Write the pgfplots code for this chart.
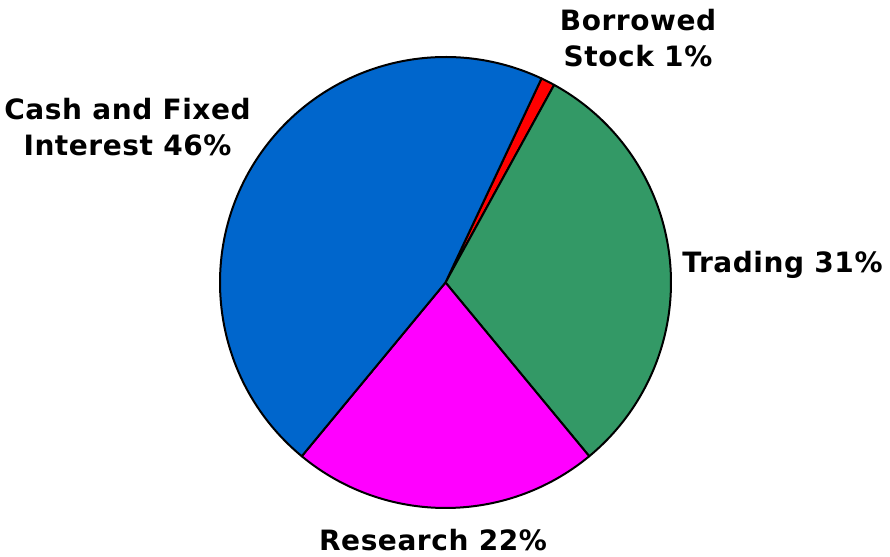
\documentclass[border=0pt]{standalone}
\usepackage{pgfplots}
\pgfplotsset{compat=1.18}
\usepackage{pgfplotstable}
\usepackage{fontspec}
\setmainfont{DejaVu Sans}[LetterSpace=2.0]
\definecolor{cblue}{HTML}{0066CC}
\definecolor{cred}{HTML}{FF0000}
\definecolor{cgreen}{HTML}{339966}
\definecolor{cmagenta}{HTML}{FF00FF}
% shares in percent, clockwise from the top
\pgfplotstableread{
share color
1 cred
31 cgreen
22 cmagenta
46 cblue
}\piedata
\begin{document}
\begin{tikzpicture}
\begin{axis}[hide axis, scale only axis, width=445pt, height=278.5pt,
  xmin=0, xmax=890, ymin=0, ymax=557, clip=false]
\pgfplotstablegetrowsof{\piedata}
\pgfmathtruncatemacro{\N}{\pgfplotsretval-1}
\gdef\startang{64.8}
\pgfplotsforeachungrouped \i in {0,...,\N}{%
  \pgfplotstablegetelem{\i}{share}\of\piedata \let\sh\pgfplotsretval
  \pgfplotstablegetelem{\i}{color}\of\piedata \let\col\pgfplotsretval
  \pgfmathsetmacro{\endang}{\startang-3.6*\sh}%
  \pgfmathsetmacro{\px}{445.5+225.5*cos(\startang)}%
  \pgfmathsetmacro{\py}{274.5+225.5*sin(\startang)}%
  \edef\temp{\noexpand\filldraw[fill=\col, draw=black, line width=1pt, line join=round] (axis cs:445.5,274.5) -- (axis cs:\px,\py) arc[start angle=\startang, end angle=\endang, radius=225.5] -- cycle;}%
  \temp
  \global\let\startang\endang
}
\begin{scope}[every node/.style={align=center, inner sep=0pt, font=\bfseries\fontsize{14}{18}\selectfont}]
\node at (axis cs:127.5,430) {Cash and Fixed\\Interest 46\%};
\node at (axis cs:638,519) {Borrowed\\Stock 1\%};
\node at (axis cs:782.5,292) {Trading 31\%};
\node at (axis cs:433,17) {Research 22\%};
\end{scope}
\end{axis}
\pgfresetboundingbox
\useasboundingbox (current axis.south west) rectangle (current axis.north east);
\end{tikzpicture}
\end{document}
